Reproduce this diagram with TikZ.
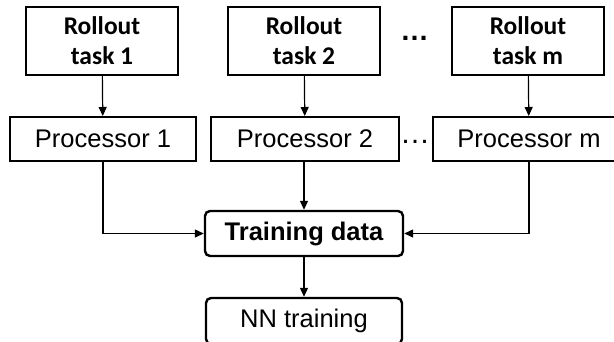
\documentclass[tikz,border=0pt]{standalone}
\usepackage{fontspec}
\setmainfont{Liberation Sans}
\newfontfamily\calibri{Carlito}
\usetikzlibrary{arrows.meta}

\tikzset{
  box/.style={draw, line width=2pt, inner sep=0pt, align=center,
    font=\fontsize{25.5}{30}\selectfont},
  taskbox/.style={box, minimum width=152pt, minimum height=68pt,
    font=\calibri\bfseries\fontsize{25.5}{30}\selectfont},
  procbox/.style={box, minimum height=44pt},
  roundbox/.style={box, rounded corners=5pt, line width=2.4pt,
    minimum width=198pt, minimum height=45pt},
  link/.style={line width=1.2pt, -{Triangle[length=9pt,width=8pt]}},
  dots/.style={inner sep=0pt, anchor=base}
}

\begin{document}
\begin{tikzpicture}[x=1pt, y=-1pt]
  \path[use as bounding box] (0,0) rectangle (614,341);
  \clip (0,0) rectangle (614,341);

  % rollout tasks
  \node[taskbox] (r1) at (102,41) {Rollout\\task 1};
  \node[taskbox] (r2) at (304,41) {Rollout\\task 2};
  \node[taskbox] (rm) at (528,41) {Rollout\\task m};
  \node[dots, font=\bfseries\fontsize{28.5}{30}\selectfont] (tdots) at (414.5,40) {…};

  % processors
  \node[procbox, minimum width=186pt] (p1) at (103,139) {Processor 1};
  \node[procbox, minimum width=188pt] (p2) at (305,139) {Processor 2};
  \node[procbox, minimum width=192pt] (pm) at (529,139) {Processor m};
  \node[dots, font=\fontsize{30}{30}\selectfont] (pdots) at (415,143) {…};

  % collected data and training
  \node[roundbox, font=\bfseries\fontsize{25.5}{30}\selectfont] (td) at (304,233.5) {Training data};
  \node[roundbox, minimum width=196pt, minimum height=46pt] (nn) at (304,321) {NN training};

  % connectors
  \draw[link] (r1) -- (p1);
  \draw[link] (r2) -- (p2);
  \draw[link] (rm) -- (pm);
  \draw[link] (p1.south) |- (td.west);
  \draw[link] (p2.south -| td.north) -- (td.north);
  \draw[link] (pm.south) |- (td.east);
  \draw[link] (td) -- (nn);
\end{tikzpicture}
\end{document}
